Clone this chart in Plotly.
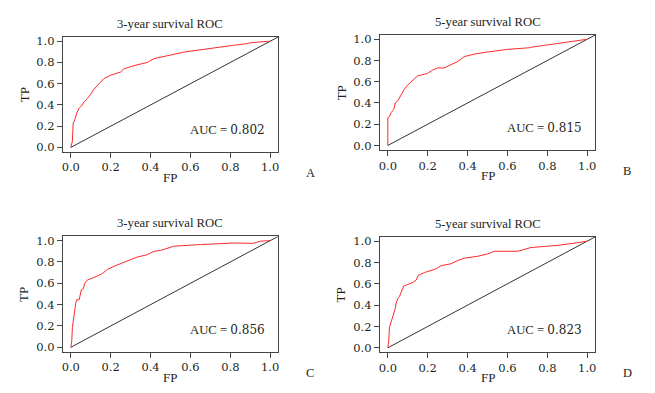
import plotly.graph_objects as go

W, H = 655, 393

titles = ["3-year survival ROC", "5-year survival ROC", "3-year survival ROC", "5-year survival ROC"]
auc_prefix = "AUC = "
auc_values = ["0.802", "0.815", "0.856", "0.823"]
panel_letters = ["A", "B", "C", "D"]
tick_vals = [0.0, 0.2, 0.4, 0.6, 0.8, 1.0]
tick_text = ["0.0", "0.2", "0.4", "0.6", "0.8", "1.0"]

fp_a = [0, 0.008, 0.012, 0.02, 0.03, 0.042, 0.053, 0.067, 0.083, 0.10, 0.112, 0.125, 0.147, 0.167,
        0.20, 0.25, 0.267, 0.317, 0.383, 0.417, 0.475, 0.50, 0.575, 0.61, 0.71, 0.81, 0.875, 0.90, 0.96, 1.0]
tp_a = [0, 0.06, 0.23, 0.26, 0.325, 0.37, 0.39, 0.43, 0.46, 0.50, 0.54, 0.57, 0.61, 0.65,
        0.68, 0.71, 0.74, 0.77, 0.80, 0.836, 0.855, 0.87, 0.90, 0.91, 0.935, 0.96, 0.975, 0.985, 0.995, 1.0]

fp_b = [0, 0, 0.008, 0.017, 0.03, 0.037, 0.05, 0.063, 0.075, 0.083, 0.10, 0.117, 0.137, 0.15, 0.183,
        0.20, 0.225, 0.25, 0.283, 0.317, 0.35, 0.383, 0.433, 0.50, 0.56, 0.60, 0.71, 0.72, 0.85, 0.95, 1.0]
tp_b = [0, 0.263, 0.27, 0.31, 0.34, 0.40, 0.42, 0.46, 0.51, 0.53, 0.57, 0.60, 0.635, 0.656, 0.67,
        0.68, 0.71, 0.73, 0.73, 0.76, 0.79, 0.836, 0.86, 0.88, 0.892, 0.905, 0.92, 0.925, 0.96, 0.99, 1.0]

fp_c = [0, 0.005, 0.008, 0.013, 0.02, 0.025, 0.03, 0.042, 0.047, 0.053, 0.063, 0.07, 0.083, 0.108,
        0.133, 0.158, 0.183, 0.217, 0.25, 0.283, 0.333, 0.383, 0.417, 0.45, 0.50, 0.517, 0.65, 0.817,
        0.917, 0.95, 1.0]
tp_c = [0, 0.06, 0.185, 0.26, 0.31, 0.415, 0.446, 0.446, 0.49, 0.54, 0.55, 0.60, 0.63, 0.646,
        0.668, 0.69, 0.73, 0.76, 0.785, 0.815, 0.846, 0.868, 0.90, 0.908, 0.94, 0.948, 0.963, 0.978,
        0.975, 0.995, 1.0]

fp_d = [0, 0.005, 0.008, 0.013, 0.02, 0.03, 0.037, 0.042, 0.05, 0.058, 0.07, 0.08, 0.10, 0.125,
        0.142, 0.153, 0.183, 0.217, 0.242, 0.267, 0.317, 0.35, 0.383, 0.45, 0.50, 0.535, 0.652, 0.718,
        0.852, 0.95, 1.0]
tp_d = [0, 0.065, 0.19, 0.22, 0.28, 0.34, 0.366, 0.42, 0.465, 0.48, 0.54, 0.58, 0.594, 0.612,
        0.634, 0.68, 0.705, 0.726, 0.74, 0.77, 0.788, 0.818, 0.84, 0.858, 0.88, 0.905, 0.905, 0.94,
        0.96, 0.985, 1.0]

curves = [(fp_a, tp_a), (fp_b, tp_b), (fp_c, tp_c), (fp_d, tp_d)]
diag = [0.0, 1.04]

# pixel boxes: (left, right, top, bottom)
boxes = [(62, 278, 34.5, 151), (380, 596, 32.5, 149), (62, 278, 237, 354), (380, 596, 237.5, 354.5)]

SERIF = "Liberation Serif, Times New Roman, serif"
DIGITS = "DejaVu Serif, serif"
TXT = "#231f20"
AX = "#444444"

fig = go.Figure()
annotations = []


def px(x):
    return x / W


def py(y):
    return 1 - y / H


for i, ((fp, tp), (l, r, t, b)) in enumerate(zip(curves, boxes)):
    n = "" if i == 0 else str(i + 1)
    xa, ya = "x" + n, "y" + n
    fig.add_trace(go.Scatter(x=diag, y=diag, mode="lines", xaxis=xa, yaxis=ya,
                             line=dict(color="#333333", width=1), showlegend=False, hoverinfo="skip"))
    fig.add_trace(go.Scatter(x=fp, y=tp, mode="lines", xaxis=xa, yaxis=ya,
                             line=dict(color="#ff2a2a", width=1), showlegend=False))
    axis_common = dict(range=[-0.04, 1.04], tickvals=tick_vals, ticktext=tick_text,
                       showgrid=False, zeroline=False, showline=True, mirror=True,
                       linecolor=AX, linewidth=1, ticks="outside", ticklen=5, tickwidth=1,
                       tickcolor=AX, tickfont=dict(family=DIGITS, size=11.5, color=TXT))
    fig.layout["xaxis" + n] = dict(domain=[px(l), px(r)], anchor=ya, **axis_common)
    fig.layout["yaxis" + n] = dict(domain=[py(b), py(t)], anchor=xa, **axis_common)

    cx = (l + r) / 2
    annotations.append(dict(text=titles[i], x=px(cx), y=py(t - 13.5), xref="paper", yref="paper",
                            showarrow=False, xanchor="center", yanchor="middle",
                            font=dict(family=SERIF, size=12.7, color=TXT)))
    annotations.append(dict(text="FP", x=px(cx), y=py(b + 26), xref="paper", yref="paper",
                            showarrow=False, xanchor="center", yanchor="middle",
                            font=dict(family=SERIF, size=13, color=TXT)))
    annotations.append(dict(text="TP", x=px(l - 39), y=py((t + b) / 2), xref="paper", yref="paper",
                            showarrow=False, xanchor="center", yanchor="middle", textangle=-90,
                            font=dict(family=SERIF, size=13, color=TXT)))
    auc_text = auc_prefix + '<span style="font-family:DejaVu Serif;font-size:12px">' + auc_values[i] + "</span>"
    annotations.append(dict(text=auc_text, x=px(r - 11), y=py(b - 22), xref="paper", yref="paper",
                            showarrow=False, xanchor="right", yanchor="middle",
                            font=dict(family=SERIF, size=12.7, color=TXT)))
    annotations.append(dict(text=panel_letters[i], x=px(r + 32), y=py(b + 21.5), xref="paper", yref="paper",
                            showarrow=False, xanchor="center", yanchor="middle",
                            font=dict(family=SERIF, size=12.5, color=TXT)))

fig.update_layout(width=W, height=H, margin=dict(l=0, r=0, t=0, b=0),
                  paper_bgcolor="white", plot_bgcolor="white", annotations=annotations,
                  showlegend=False)

fig.write_html("out.html", config={"displayModeBar": False},
               post_script="document.body.style.margin='0';document.body.style.overflow='hidden';")
